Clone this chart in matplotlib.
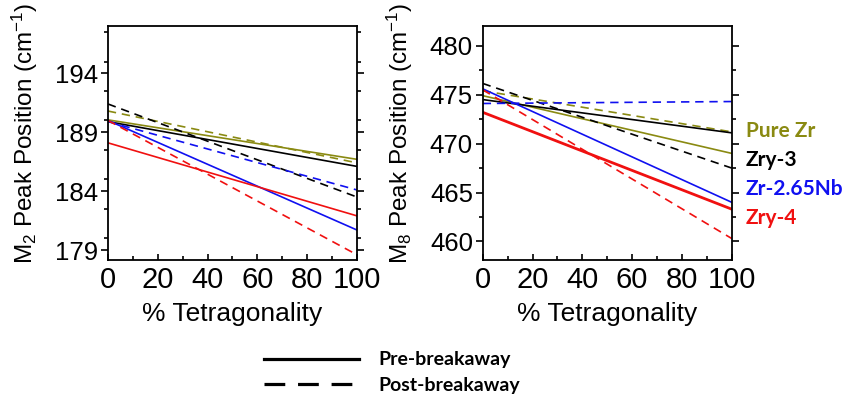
import matplotlib.pyplot as plt
from matplotlib.lines import Line2D
from matplotlib.ticker import MultipleLocator

plt.rcParams['font.family'] = ['Liberation Sans', 'DejaVu Sans']
plt.rcParams['mathtext.fontset'] = 'custom'
plt.rcParams['mathtext.rm'] = 'Liberation Sans'
plt.rcParams['mathtext.it'] = 'Liberation Sans:italic'

# % tetragonality at the ends of each fitted line
x = [0, 100]

alloys = ["Pure Zr", "Zry-3", "Zr-2.65Nb", "Zry-4"]
colors = ["#8a8a12", "#000000", "#1010f0", "#f01010"]

# M2 peak position (cm^-1)
m2_pre = {"Pure Zr": [190.05, 186.7], "Zry-3": [189.9, 186.1],
          "Zr-2.65Nb": [190.0, 180.7], "Zry-4": [188.1, 181.9]}
m2_post = {"Pure Zr": [190.8, 186.4], "Zry-3": [191.4, 183.5],
           "Zr-2.65Nb": [189.9, 184.1], "Zry-4": [190.0, 178.6]}

# M8 peak position (cm^-1)
m8_pre = {"Pure Zr": [474.9, 469.0], "Zry-3": [474.5, 471.1],
          "Zr-2.65Nb": [475.6, 464.0], "Zry-4": [473.2, 463.3]}
m8_post = {"Pure Zr": [475.4, 471.2], "Zry-3": [476.15, 467.5],
           "Zr-2.65Nb": [474.1, 474.3], "Zry-4": [475.5, 460.3]}

fig = plt.figure(figsize=(8.43, 3.97), dpi=100)
ax1 = fig.add_axes([0.128, 0.345, 0.2954, 0.589])
ax2 = fig.add_axes([0.5726, 0.345, 0.2954, 0.589])

dash = (0, (5, 3.5))


def draw(ax, pre, post):
    for name, c in zip(alloys, colors):
        lw_pre = 2.0 if (ax is ax2 and name == "Zry-4") else 1.2
        ax.plot(x, post[name], color=c, lw=1.2, linestyle=dash)
        ax.plot(x, pre[name], color=c, lw=lw_pre)


draw(ax1, m2_pre, m2_post)
draw(ax2, m8_pre, m8_post)

ax1.set_ylim(178.15, 198.0)
ax1.set_yticks([179, 184, 189, 194])
ax2.set_ylim(458.1, 482.0)
ax2.set_yticks([460, 465, 470, 475, 480])

for ax in (ax1, ax2):
    ax.set_xlim(0, 100)
    ax.set_xticks([0, 20, 40, 60, 80, 100])
    ax.xaxis.set_minor_locator(MultipleLocator(10))
    ax.yaxis.set_minor_locator(MultipleLocator(2.5))
    for s in ax.spines.values():
        s.set_linewidth(1.3)
    ax.tick_params(axis='y', which='both', direction='out', left=True, right=True,
                   width=1.2, labelsize=18.5, pad=2)
    ax.tick_params(axis='y', which='major', length=5)
    ax.tick_params(axis='y', which='minor', length=3)
    ax.tick_params(axis='x', which='both', direction='in', width=1.2,
                   labelsize=21, pad=4)
    ax.tick_params(axis='x', which='major', length=4)
    ax.tick_params(axis='x', which='minor', length=3)
    ax.set_xlabel("% Tetragonality", fontsize=19, labelpad=6)

ax1.set_ylabel("M$_2$ Peak Position (cm$^{-1}$)", fontsize=17.5)
ax2.set_ylabel("M$_8$ Peak Position (cm$^{-1}$)", fontsize=17.5)
ax1.yaxis.set_label_coords(-0.272, 0.543)
ax2.yaxis.set_label_coords(-0.272, 0.543)

# alloy labels to the right of the second panel
label_y = [131, 160, 189, 218]
for name, c, yp in zip(alloys, colors, label_y):
    fig.text(746 / 843, 1 - yp / 397, name, color=c, fontsize=15,
             fontweight='bold', family=['Lato', 'DejaVu Sans'], va='center', ha='left')

handles = [Line2D([], [], color='black', lw=2.3),
           Line2D([], [], color='black', lw=2.3, linestyle=(0, (6.5, 4)))]
fig.legend(handles, ["Pre-breakaway", "Post-breakaway"], loc='upper left',
           bbox_to_anchor=(246 / 843, 1 - 334 / 397), frameon=False,
           handlelength=4.9, handletextpad=1.0, labelspacing=0.45,
           prop={'family': ['Lato', 'DejaVu Sans'], 'weight': 'bold', 'size': 14})

fig.savefig("out.png", dpi=100)
